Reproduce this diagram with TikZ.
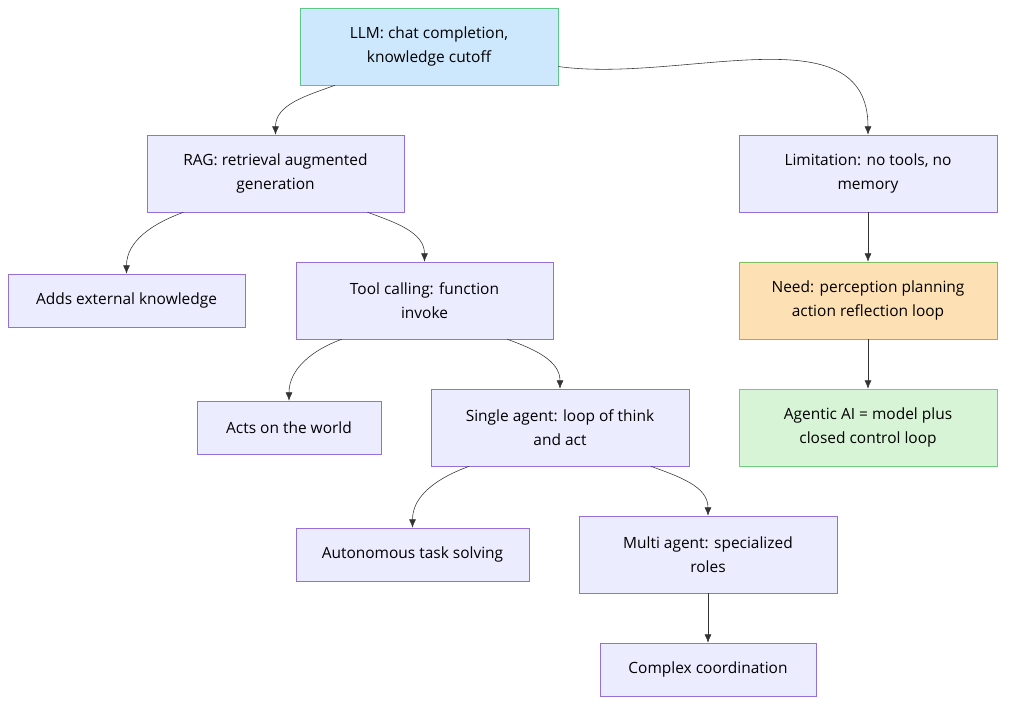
\documentclass[tikz,border=0pt]{standalone}
\usepackage{fontspec}
\setmainfont{Open Sans}
\usetikzlibrary{arrows.meta}
\definecolor{boxfill}{HTML}{ECECFF}
\definecolor{boxline}{HTML}{9370DB}
\definecolor{llmfill}{HTML}{CDE8FD}
\definecolor{llmline}{HTML}{5FC68A}
\definecolor{needfill}{HTML}{FDE0B3}
\definecolor{needline}{HTML}{7FBF5F}
\definecolor{aifill}{HTML}{D7F5D6}
\definecolor{aiLine}{HTML}{6FCF7F}
\definecolor{edgecol}{HTML}{333333}
\tikzset{
  box/.style={draw=boxline, fill=boxfill, align=center, font=\fontsize{11}{17}\selectfont,
    minimum height=1.925cm, inner sep=0pt},
  tall/.style={minimum height=1.925cm},
  low/.style={minimum height=1.325cm},
  edge/.style={draw=edgecol, -{Latex[length=6pt,width=5pt]}, thin}
}
\begin{document}
\begin{tikzpicture}[x=0.025cm, y=-0.025cm]
	\useasboundingbox (0,0) rectangle (1013,710);

	\node[box, fill=llmfill, draw=llmline, minimum width=6.45cm] (llm) at (429,46.5) {LLM: chat completion,\\ knowledge cutoff};
	\node[box, minimum width=6.425cm] (rag) at (275.5,173.5) {RAG: retrieval augmented\\ generation};
	\node[box, minimum width=6.45cm] (lim) at (868,173.5) {Limitation: no tools, no\\ memory};
	\node[box, low, minimum width=5.925cm] (adds) at (126.5,300.5) {Adds external knowledge};
	\node[box, minimum width=6.425cm] (tool) at (424.5,300.5) {Tool calling: function\\ invoke};
	\node[box, fill=needfill, draw=needline, minimum width=6.45cm] (need) at (868,300.5) {Need: perception planning\\ action reflection loop};
	\node[box, low, minimum width=4.6cm] (acts) at (289,427.5) {Acts on the world};
	\node[box, minimum width=6.45cm] (single) at (560,427.5) {Single agent: loop of think\\ and act};
	\node[box, fill=aifill, draw=aiLine, minimum width=6.45cm] (agentic) at (868,427.5) {Agentic AI = model plus\\ closed control loop};
	\node[box, low, minimum width=5.825cm] (auto) at (412.5,554.5) {Autonomous task solving};
	\node[box, minimum width=6.45cm] (multi) at (708,554.5) {Multi agent: specialized\\ roles};
	\node[box, low, minimum width=5.4cm] (complex) at (708,669.5) {Complex coordination};

	% curved links
	\draw[edge] ([xshift=-2.35cm]llm.south) to[out=-160, in=90] (rag.north);
	\draw[edge] ([yshift=-0.5cm]llm.east) to[out=-8, in=90] (lim.north);
	\draw[edge] ([xshift=-2.3cm]rag.south) to[out=-160, in=90] (adds.north);
	\draw[edge] ([xshift=2.3cm]rag.south) to[out=-20, in=90] (tool.north);
	\draw[edge] ([xshift=-2.07cm]tool.south) to[out=-160, in=90] (acts.north);
	\draw[edge] ([xshift=2.07cm]tool.south) to[out=-20, in=90] (single.north);
	\draw[edge] ([xshift=-2.27cm]single.south) to[out=-160, in=90] (auto.north);
	\draw[edge] ([xshift=2.27cm]single.south) to[out=-20, in=90] (multi.north);

	% straight links
	\draw[edge] (lim) -- (need);
	\draw[edge] (need) -- (agentic);
	\draw[edge] (multi) -- (complex);
\end{tikzpicture}
\end{document}
